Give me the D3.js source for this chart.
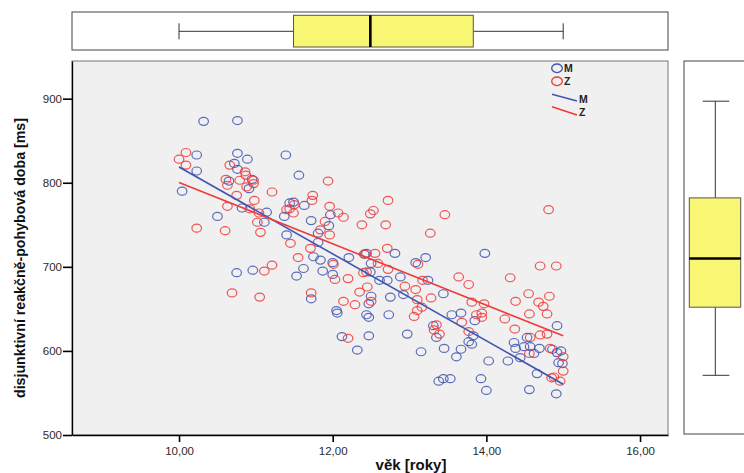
<!DOCTYPE html>
<html>
<head>
<meta charset="utf-8">
<script src="https://cdn.jsdelivr.net/npm/d3@7/dist/d3.min.js"></script>
<style>
  html, body { margin: 0; padding: 0; background: #ffffff; }
  svg { display: block; }
</style>
</head>
<body>
<svg id="chart" width="744" height="473"></svg>
<script>
// ---------------- DATA ----------------
const xTickValues = [10, 12, 14, 16];
const xTickLabels = ["10,00", "12,00", "14,00", "16,00"];
const yTickValues = [500, 600, 700, 800, 900];
const yTickLabels = ["500", "600", "700", "800", "900"];

const groups = ["M", "Z"];

const mAge = [10.32,10.76,10.23,10.76,10.89,11.39,10.72,10.23,10.76,11.56,10.95,10.65,10.91,10.04,11.49,11.44,11.63,10.82,11.14,10.50,11.37,11.72,11.11,11.97,11.95,11.40,11.81,11.81,11.75,11.84,12.00,12.21,11.62,11.87,12.00,11.53,10.75,10.96,
12.41,12.44,12.50,12.49,12.81,13.08,13.21,13.98,12.61,12.71,12.88,13.24,12.92,12.75,12.50,12.47,13.44,12.73,12.44,12.47,12.05,12.06,13.55,13.67,13.85,13.31,13.35,13.83,12.12,12.47,12.97,12.32,13.15,13.45,13.61,13.67,13.77,13.81,14.03,14.28,14.44,14.36,14.38,14.49,14.57,14.69,14.53,14.62,14.86,14.92,14.97,14.92,14.94,14.99,14.66,13.38,13.44,13.53,13.93,14.00,14.56,14.91,11.72];
const mTime = [873,874,833,835,828,833,823,814,816,809,804,802,793,790,777,776,773,770,765,760,760,755,753,762,749,738,740,729,712,708,705,711,698,695,691,689,693,696,
715,716,704,694,716,705,711,716,684,684,688,684,667,664,665,656,668,643,643,640,648,645,643,645,636,630,616,618,617,618,620,601,599,603,593,602,611,608,588,588,592,610,603,605,605,603,616,597,602,598,600,630,586,585,573,564,567,567,567,553,554,549,662];

const zAge = [10.00,10.09,10.09,10.66,10.86,10.87,10.61,10.79,10.63,10.97,10.97,10.88,11.94,11.21,10.75,10.98,11.74,11.73,11.50,11.44,11.40,11.49,10.63,10.92,11.04,11.96,12.07,12.14,11.02,11.90,11.84,11.96,11.06,10.23,10.60,11.45,11.71,11.55,12.01,11.21,11.11,12.20,12.03,12.38,
12.72,12.49,12.53,13.46,12.69,13.27,14.81,12.71,12.55,12.42,12.59,12.72,12.40,12.44,13.11,13.17,13.64,13.77,14.31,14.70,14.91,12.94,13.08,12.45,12.35,13.10,13.28,12.50,12.14,12.29,13.81,13.97,13.16,13.10,13.06,14.38,14.55,14.82,14.68,14.74,14.56,14.79,13.87,13.94,13.94,14.24,13.68,14.37,13.77,13.35,13.32,13.39,12.20,14.57,14.70,14.79,14.83,14.56,15.00,15.00,14.85,14.88,14.96,10.69,11.05,11.72];
const zTime = [828,836,821,821,813,809,804,803,797,803,799,795,802,789,785,779,785,779,774,769,768,764,772,769,764,772,764,759,753,754,744,738,741,746,743,728,722,711,703,702,695,686,685,750,
779,763,767,762,750,740,768,722,716,715,704,697,693,694,703,684,688,679,687,701,701,677,673,676,670,661,663,659,659,655,658,656,652,648,641,659,668,665,658,653,644,644,643,645,640,638,634,626,623,631,625,620,615,616,619,620,603,597,593,576,568,569,564,669,664,669];

// linear fit lines (start / end)
const fitAgeM = [10.0, 15.0];
const fitTimeM = [818.7, 560.4];
const fitAgeZ = [10.0, 15.0];
const fitTimeZ = [800.4, 617.9];

// marginal boxplots: [whisker low, Q1, median, Q3, whisker high]
const boxAge = [10.0, 11.49, 12.49, 13.83, 15.0];
const boxTime = [571, 652, 710, 782, 897];

const xLabel = "věk [roky]";
const yLabel = "disjunktivní reakčně-pohybová doba [ms]";

// ---------------- LAYOUT ----------------
const svg = d3.select("#chart");
const L = 72, R = 668, T = 61, B = 435;
const col = { M: "#4055b2", Z: "#ef3a3a" };

const x = d3.scaleLinear().domain([8.607, 16.364]).range([L, R]);
const y = d3.scaleLinear().domain([500, 944.8]).range([B, T]);

// plot background
svg.append("rect").attr("x", L).attr("y", T).attr("width", R - L).attr("height", B - T)
  .attr("fill", "#f0f0f0").attr("stroke", "#777").attr("stroke-width", 1);

svg.append("clipPath").attr("id", "clip").append("rect")
  .attr("x", L).attr("y", T).attr("width", R - L).attr("height", B - T);
const plot = svg.append("g").attr("clip-path", "url(#clip)");

function ptsOf(ages, times) { return ages.map((a, i) => ({ a: a, t: times[i] })); }

plot.append("g").selectAll("ellipse").data(ptsOf(mAge, mTime)).join("ellipse")
  .attr("cx", d => x(d.a)).attr("cy", d => y(d.t)).attr("rx", 4.8).attr("ry", 4)
  .attr("fill", "none").attr("stroke", col.M).attr("stroke-width", 1.2).attr("stroke-opacity", 0.85);
plot.append("g").selectAll("ellipse").data(ptsOf(zAge, zTime)).join("ellipse")
  .attr("cx", d => x(d.a)).attr("cy", d => y(d.t)).attr("rx", 4.8).attr("ry", 4)
  .attr("fill", "none").attr("stroke", col.Z).attr("stroke-width", 1.2).attr("stroke-opacity", 0.85);

const line = d3.line().x(d => x(d.a)).y(d => y(d.t));
plot.append("path").datum(ptsOf(fitAgeM, fitTimeM)).attr("d", line)
  .attr("stroke", col.M).attr("stroke-width", 1.6).attr("fill", "none");
plot.append("path").datum(ptsOf(fitAgeZ, fitTimeZ)).attr("d", line)
  .attr("stroke", col.Z).attr("stroke-width", 1.6).attr("fill", "none");

// axes
const fontAx = "'Liberation Sans', Arial, sans-serif";
const xAxis = svg.append("g").attr("transform", `translate(0,${B})`)
  .call(d3.axisBottom(x).tickValues(xTickValues).tickFormat((d, i) => xTickLabels[i]).tickSize(7).tickPadding(5).tickSizeOuter(0));
const yAxis = svg.append("g").attr("transform", `translate(${L},0)`)
  .call(d3.axisLeft(y).tickValues(yTickValues).tickFormat((d, i) => yTickLabels[i]).tickSize(9).tickPadding(1).tickSizeOuter(0));
[xAxis, yAxis].forEach(g => {
  g.select(".domain").attr("stroke", "#000").attr("stroke-width", 1.3);
  g.selectAll(".tick line").attr("stroke", "#000").attr("stroke-width", 1.6);
  g.selectAll(".tick text").attr("font-family", fontAx).attr("font-size", 11.5).attr("fill", "#2a2a2a");
});

svg.append("text").attr("x", 411).attr("y", 470).attr("text-anchor", "middle")
  .attr("font-family", fontAx).attr("font-weight", "bold").attr("font-size", 15).attr("fill", "#111")
  .text(xLabel);
svg.append("text").attr("transform", "translate(25,258) rotate(-90)").attr("text-anchor", "middle")
  .attr("font-family", "'Liberation Sans Narrow', 'Arial Narrow', sans-serif").attr("font-size", 15.5)
  .attr("font-weight", "bold")
  .attr("fill", "#111").attr("textLength", 280).attr("lengthAdjust", "spacingAndGlyphs")
  .text(yLabel);

// legend
const leg = svg.append("g").attr("font-family", fontAx).attr("font-weight", "bold").attr("font-size", 10.5).attr("fill", "#222");
const legY = { M: 68.3, Z: 81.3 };
groups.forEach(g => {
  leg.append("ellipse").attr("cx", 557).attr("cy", legY[g]).attr("rx", 5.3).attr("ry", 4.3)
    .attr("fill", "none").attr("stroke", col[g]).attr("stroke-width", 1.3);
  leg.append("text").attr("x", 564).attr("y", legY[g] + 4).text(g);
});
const legL = { M: [94.3, 101], Z: [106.7, 115] };
groups.forEach(g => {
  leg.append("line").attr("x1", 552).attr("y1", legL[g][0]).attr("x2", 577).attr("y2", legL[g][1])
    .attr("stroke", col[g]).attr("stroke-width", 1.5);
  leg.append("text").attr("x", 579).attr("y", (legL[g][0] + legL[g][1]) / 2 + 5).text(g);
});

// top marginal boxplot (age)
const boxFill = "#f8f672";
const topBox = svg.append("g");
topBox.append("rect").attr("x", L).attr("y", 12).attr("width", R - L).attr("height", 38)
  .attr("fill", "#fff").attr("stroke", "#444").attr("stroke-width", 1);
topBox.append("line").attr("x1", x(boxAge[0])).attr("x2", x(boxAge[1])).attr("y1", 31.3).attr("y2", 31.3).attr("stroke", "#333");
topBox.append("line").attr("x1", x(boxAge[3])).attr("x2", x(boxAge[4])).attr("y1", 31.3).attr("y2", 31.3).attr("stroke", "#333");
[boxAge[0], boxAge[4]].forEach(v => topBox.append("line").attr("x1", x(v)).attr("x2", x(v)).attr("y1", 23.3).attr("y2", 39.3).attr("stroke", "#333"));
topBox.append("rect").attr("x", x(boxAge[1])).attr("y", 15.3).attr("width", x(boxAge[3]) - x(boxAge[1])).attr("height", 31.7)
  .attr("fill", boxFill).attr("stroke", "#555").attr("stroke-width", 1);
topBox.append("line").attr("x1", x(boxAge[2])).attr("x2", x(boxAge[2])).attr("y1", 15.3).attr("y2", 47).attr("stroke", "#000").attr("stroke-width", 2.6);

// right marginal boxplot (time)
const rightBox = svg.append("g");
const cx = 715.3;
rightBox.append("rect").attr("x", 684).attr("y", T).attr("width", 90).attr("height", B - 1 - T)
  .attr("fill", "#fff").attr("stroke", "#444").attr("stroke-width", 1);
rightBox.append("line").attr("x1", cx).attr("x2", cx).attr("y1", y(boxTime[4])).attr("y2", y(boxTime[3])).attr("stroke", "#333");
rightBox.append("line").attr("x1", cx).attr("x2", cx).attr("y1", y(boxTime[1])).attr("y2", y(boxTime[0])).attr("stroke", "#333");
[boxTime[0], boxTime[4]].forEach(v => rightBox.append("line").attr("x1", 702.7).attr("x2", 729.3).attr("y1", y(v)).attr("y2", y(v)).attr("stroke", "#333"));
rightBox.append("rect").attr("x", 689.3).attr("y", y(boxTime[3])).attr("width", 51.4).attr("height", y(boxTime[1]) - y(boxTime[3]))
  .attr("fill", boxFill).attr("stroke", "#555").attr("stroke-width", 1);
rightBox.append("line").attr("x1", 689.3).attr("x2", 740.7).attr("y1", y(boxTime[2])).attr("y2", y(boxTime[2])).attr("stroke", "#000").attr("stroke-width", 2.6);
</script>
</body>
</html>
